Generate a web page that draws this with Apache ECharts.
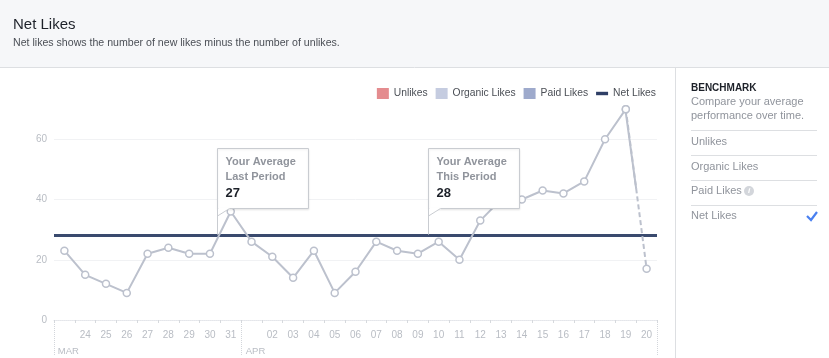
<!DOCTYPE html>
<html><head><meta charset="utf-8">
<script src="https://cdn.jsdelivr.net/npm/echarts@6/dist/echarts.min.js"></script>
<style>html,body{margin:0;padding:0;background:#fff}#c{width:829px;height:358px}</style>
</head><body><div id="c"></div>
<script>
// ---- data ----
const days = ['23','24','25','26','27','28','29','30','31','01','02','03','04','05','06','07','08','09','10','11','12','13','14','15','16','17','18','19','20'];
const tickLabels = ['','24','25','26','27','28','29','30','31','','02','03','04','05','06','07','08','09','10','11','12','13','14','15','16','17','18','19','20'];
const monthLabels = ['MAR','','','','','','','','','APR','','','','','','','','','','','','','','','','','','',''];
const netLikes = [23,15,12,9,22,24,22,22,36,26,21,14,23,9,16,26,23,22,26,20,33,40,40,43,42,46,60,70,17];
const provisionalFrom = 27; // segment after this index is partly dashed
const avgLastPeriod = 27;
const avgThisPeriod = 28;
const legendNames = ['Unlikes','Organic Likes','Paid Likes','Net Likes'];
const legendColors = ['#e48c8f','#c5cce0','#9eaacc','#2f3f66'];
const benchmarkItems = ['Unlikes','Organic Likes','Paid Likes','Net Likes'];
const titleText = 'Net Likes';
const subText = 'Net likes shows the number of new likes minus the number of unlikes.';

const FONT = '"Liberation Sans", Arial, Helvetica, sans-serif';
const LINE = '#bcc1cd';
const chart = echarts.init(document.getElementById('c'), null, {renderer:'canvas'});

const solid = netLikes.map((v,i)=> i<=provisionalFrom ? v : null);
const dashed = netLikes.map((v,i)=> i>=provisionalFrom ? v : null);

const option = {
  animation:false,
  textStyle:{fontFamily:FONT},
  title:{text:titleText, subtext:subText, left:13, top:17, padding:0, itemGap:6, z:10,
    textStyle:{fontSize:15, fontWeight:'normal', color:'#1d2129', fontFamily:FONT},
    subtextStyle:{fontSize:10.6, color:'#4b4f56', fontFamily:FONT}},
  legend:{right:168, top:83, itemWidth:12, itemHeight:11, itemGap:8,
    textStyle:{fontSize:10.3, color:'#4b4f56', fontFamily:FONT},
    data: legendNames.map((n,i)=>({name:n, icon: i<3 ? 'rect' : 'path://M0,0L14,0L14,4L0,4Z'})),
    selectedMode:false},
  grid:{left:54, right:172, top:79, bottom:38},
  xAxis:[{
    type:'category', data:days, boundaryGap:true,
    axisLine:{lineStyle:{color:'#e4e6ea', type:'dotted'}},
    axisTick:{show:true, length:3, lineStyle:{color:'#d6d9dd'}},
    axisLabel:{interval:0, formatter:(v,i)=>tickLabels[i], color:'#b9bdc4', fontSize:10, margin:10, fontFamily:FONT}
  },{
    type:'category', data:days, boundaryGap:true, position:'bottom',
    axisLine:{show:false},
    axisTick:{show:true, length:36, interval:(i)=> monthLabels[i] !== '', lineStyle:{color:'#d3d6db', type:'dotted'}},
    axisLabel:{interval:(i)=> monthLabels[i] !== '', formatter:(v,i)=>monthLabels[i], color:'#b9bdc4', fontSize:9.5, margin:26, padding:[0,0,0,8], fontFamily:FONT}
  }],
  yAxis:{type:'value', min:0, max:80, interval:20,
    axisLine:{show:false}, axisTick:{show:false},
    axisLabel:{color:'#b9bdc4', fontSize:10, margin:7, showMaxLabel:false, fontFamily:FONT},
    splitLine:{lineStyle:{color:'#f1f2f4'}, showMaxLine:false}},
  series:[
    {name:legendNames[0], type:'bar', data:[], itemStyle:{color:legendColors[0]}},
    {name:legendNames[1], type:'bar', data:[], itemStyle:{color:legendColors[1]}},
    {name:legendNames[2], type:'bar', data:[], itemStyle:{color:legendColors[2]}},
    {name:legendNames[3], type:'line', data:[], itemStyle:{color:legendColors[3]}, lineStyle:{color:legendColors[3]}},
    {name:'daily', type:'line', data:solid, z:3, symbol:'circle', symbolSize:7, showAllSymbol:true,
      lineStyle:{color:LINE, width:2}, itemStyle:{color:'#fff', borderColor:LINE, borderWidth:1.5},
      markLine:{silent:true, symbol:['none','none'], label:{show:false}, z:2,
        lineStyle:{color:'#3a4a6e', width:3, type:'solid'}, data:[{yAxis:avgThisPeriod}]}},
    {name:'provisional', type:'line', data:dashed, z:3, symbol:'circle', symbolSize:7, showAllSymbol:true,
      lineStyle:{color:LINE, width:2, type:[5,3]}, itemStyle:{color:'#fff', borderColor:LINE, borderWidth:1.5}}
  ]
};
chart.setOption(option);

// ---- annotations & chrome ----
function callout(frac, idx, title2, value){
  const x0 = chart.convertToPixel({xAxisIndex:0}, days[idx]);
  const x1 = chart.convertToPixel({xAxisIndex:0}, days[idx+1]);
  const L = Math.round(x0 + frac*(x1-x0)) + 0.5;
  const yAvg = chart.convertToPixel({yAxisIndex:0}, avgThisPeriod);
  const T = 148, H = 60, W = 91;
  const stroke = '#c9ccd1';
  return [
    {type:'rect', z:20, shape:{x:L, y:T+0.5, width:W, height:H}, style:{fill:'#fff', stroke:stroke, lineWidth:1, shadowBlur:2, shadowColor:'rgba(0,0,0,0.08)', shadowOffsetY:1}},
    {type:'rect', z:21, shape:{x:L+1, y:T+H-0.5, width:11, height:2}, style:{fill:'#fff'}},
    {type:'polygon', z:21, shape:{points:[[L,T+H+0.5],[L,T+H+8],[L+12,T+H+0.5]]}, style:{fill:'#fff'}},
    {type:'polyline', z:22, shape:{points:[[L,T+H+8],[L+12,T+H+0.5]]}, style:{stroke:stroke, lineWidth:1, fill:null}},
    {type:'line', z:22, shape:{x1:L, y1:T+H, x2:L, y2:yAvg-1}, style:{stroke:stroke, lineWidth:1}},
    {type:'text', z:23, x:L+8, y:T+14, style:{text:'Your Average', font:'bold 11px '+FONT, fill:'#90949c', verticalAlign:'middle'}},
    {type:'text', z:23, x:L+8, y:T+29, style:{text:title2, font:'bold 11px '+FONT, fill:'#90949c', verticalAlign:'middle'}},
    {type:'text', z:23, x:L+8, y:T+45, style:{text:String(value), font:'bold 13px '+FONT, fill:'#1d2129', verticalAlign:'middle'}}
  ];
}

const panelX = 691;
const sepYs = [130.5, 155.5, 180.5, 205.5];
const itemYs = [142, 167, 191, 216];
const g = [
  {type:'rect', z:-5, shape:{x:0, y:0, width:829, height:67}, style:{fill:'#f6f7f9'}},
  {type:'line', z:-4, shape:{x1:0, y1:67.5, x2:829, y2:67.5}, style:{stroke:'#dddfe2', lineWidth:1}},
  {type:'line', z:-4, shape:{x1:675.5, y1:68, x2:675.5, y2:358}, style:{stroke:'#dddfe2', lineWidth:1}},
  {type:'text', x:panelX, y:88, style:{text:'BENCHMARK', font:'bold 10px '+FONT, fill:'#1d2129', verticalAlign:'middle'}},
  {type:'text', x:panelX, y:102, style:{text:'Compare your average', font:'11px '+FONT, fill:'#90949c', verticalAlign:'middle'}},
  {type:'text', x:panelX, y:116, style:{text:'performance over time.', font:'11px '+FONT, fill:'#90949c', verticalAlign:'middle'}},
];
sepYs.forEach(y=>g.push({type:'line', shape:{x1:panelX, y1:y, x2:817, y2:y}, style:{stroke:'#dddfe2', lineWidth:1}}));
benchmarkItems.forEach((t,i)=>g.push({type:'text', x:panelX, y:itemYs[i], style:{text:t, font:'11px '+FONT, fill:'#90949c', verticalAlign:'middle'}}));
g.push({type:'circle', shape:{cx:749, cy:191, r:5}, style:{fill:'#d3d6db'}});
g.push({type:'text', x:749, y:191, style:{text:'i', font:'italic bold 8px '+FONT, fill:'#fff', align:'center', verticalAlign:'middle'}});
g.push({type:'polyline', shape:{points:[[807,216],[811,220],[817,212]]}, style:{stroke:'#4a80f0', lineWidth:2.2, fill:null}});
// solid first half of the provisional segment, from the data through the axes
const pA = chart.convertToPixel({gridIndex:0}, [days[provisionalFrom], netLikes[provisionalFrom]]);
const pB = chart.convertToPixel({gridIndex:0}, [days[provisionalFrom+1], netLikes[provisionalFrom+1]]);
g.push({type:'line', z:5, shape:{x1:pA[0], y1:pA[1]+3.5, x2:(pA[0]+pB[0])/2, y2:(pA[1]+pB[1])/2}, style:{stroke:LINE, lineWidth:2}});
g.push(...callout(0.36, 7, 'Last Period', avgLastPeriod));
g.push(...callout(0.48, 17, 'This Period', avgThisPeriod));
chart.setOption({graphic:g});
</script>
</body></html>
